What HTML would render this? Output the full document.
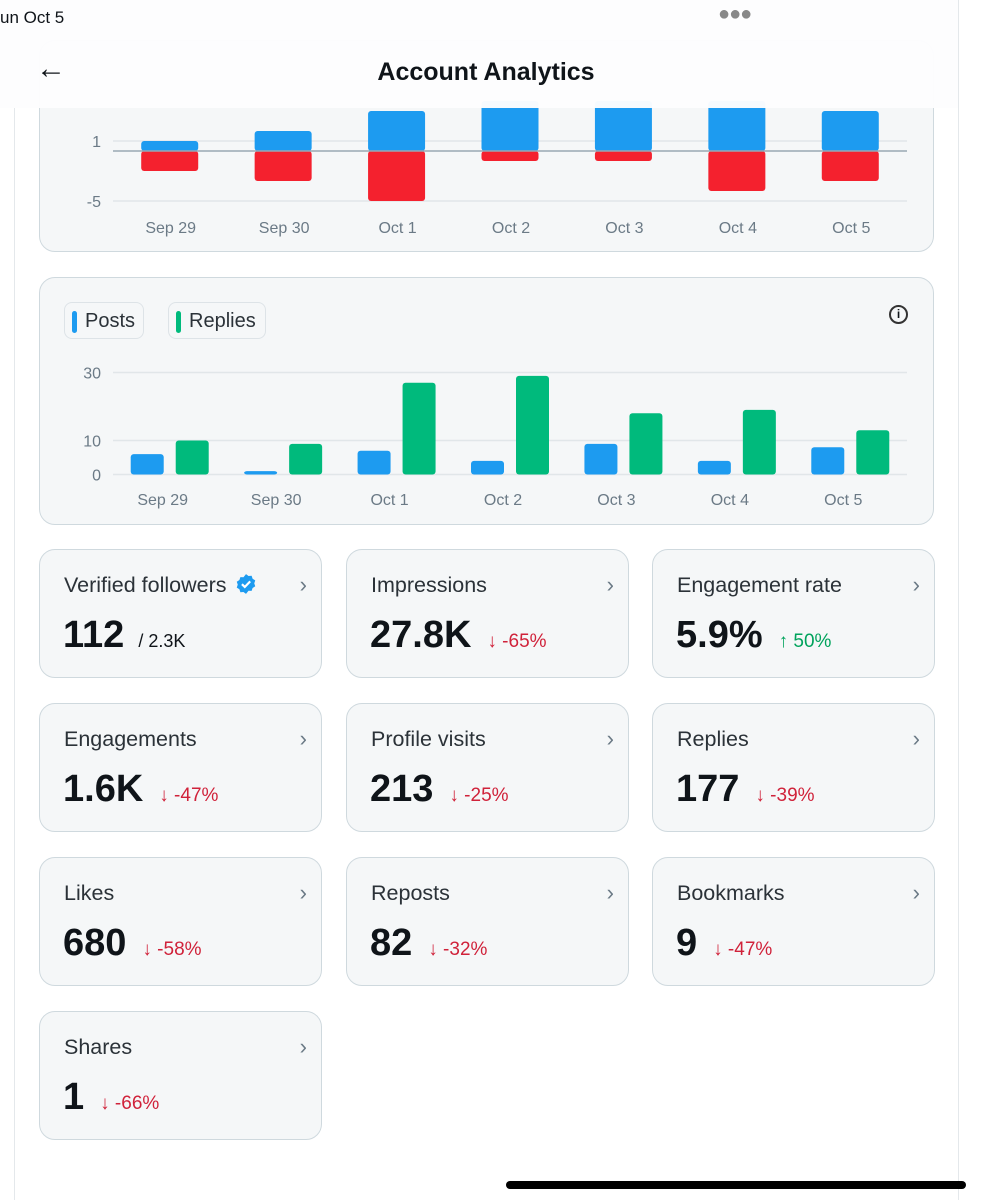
<!DOCTYPE html>
<html><head><meta charset="utf-8">
<style>
*{box-sizing:border-box;margin:0;padding:0}
body{width:1007px;height:1200px;background:#fff;font-family:"Liberation Sans",sans-serif;position:relative;overflow:hidden;color:#0f1419}
.vline{position:absolute;top:0;width:1px;height:1200px;background:#e4e8eb}
.card{position:absolute;background:#f5f7f8;border:1.5px solid #cfd9de;border-radius:16px}
.stat .lbl{position:absolute;left:24px;top:23px;font-size:21.5px;color:#2b3238;white-space:nowrap}
.stat .chev{position:absolute;right:14px;top:22px;font-size:22px;color:#6b7a86}
.stat .val{position:absolute;left:23px;top:64px;font-size:38px;font-weight:bold;color:#0f1419;white-space:nowrap}
.stat .chg{font-size:19px;font-weight:normal;margin-left:16px}
.dn{color:#d0223a}.up{color:#00a35c}
svg text{font-family:"Liberation Sans",sans-serif}
</style></head><body>
<div class="vline" style="left:14px"></div>
<div class="vline" style="left:958px"></div>

<div class="card" style="left:39px;top:40px;width:895px;height:212px">
<svg id="top-chart" width="895" height="212" style="position:absolute;left:-1.5px;top:-1.5px"></svg>
</div>

<div style="position:absolute;left:0;top:0;width:958px;height:108px;background:rgba(253,253,254,0.97)">
<div style="position:absolute;left:0;top:8px;font-size:17px">un Oct 5</div>
<div style="position:absolute;left:718px;top:3px;font-size:20px;color:#888;letter-spacing:-1px">●●●</div>
<div style="position:absolute;left:36px;top:54px;font-size:30px;line-height:30px">&#8592;</div>
<div style="position:absolute;left:0;width:972px;text-align:center;top:58px;font-size:25px;font-weight:bold">Account Analytics</div>
</div>

<div class="card" style="left:39px;top:277px;width:895px;height:248px">
<div style="position:absolute;left:24px;top:24px;height:37px;width:80px;border:1px solid #dde3e7;border-radius:8px;font-size:20px;padding:7px 0 0 20px;color:#2b3238"><span style="position:absolute;left:7px;top:8px;width:5px;height:22px;border-radius:3px;background:#1d9bf0"></span>Posts</div>
<div style="position:absolute;left:128px;top:24px;height:37px;width:98px;border:1px solid #dde3e7;border-radius:8px;font-size:20px;padding:7px 0 0 20px;color:#2b3238"><span style="position:absolute;left:7px;top:8px;width:5px;height:22px;border-radius:3px;background:#00ba7c"></span>Replies</div>
<div style="position:absolute;left:849px;top:27px;width:19px;height:19px;border:2px solid #333;border-radius:50%;font-size:12px;text-align:center;line-height:15px;font-weight:bold">i</div>
<svg id="bot-chart" width="895" height="248" style="position:absolute;left:-1.5px;top:-1.5px"></svg>
</div>

<div id="stats"></div>
<div style="position:absolute;left:506px;top:1181px;width:460px;height:8px;border-radius:4px;background:#000"></div>

<script>
const categories=["Sep 29","Sep 30","Oct 1","Oct 2","Oct 3","Oct 4","Oct 5"];
const gained=[1,2,4,5,5,5,4];
const lost=[-2,-3,-5,-1,-1,-4,-3];
const topTicks=[1,-5];
const posts=[6,1,7,4,9,4,8];
const replies=[10,9,27,29,18,19,13];
const botTicks=[30,10,0];
const NS="http://www.w3.org/2000/svg";
function mk(svg,tag,attrs,text){const e=document.createElementNS(NS,tag);for(const k in attrs)e.setAttribute(k,attrs[k]);if(text!=null)e.textContent=text;svg.appendChild(e);return e;}
(function(){
 const svg=document.getElementById('top-chart');
 const y=v=>111-v*10; const x0=74,x1=868,step=(x1-x0)/7;
 const xc=i=>x0+step*(i+0.5)+1;
 topTicks.forEach(t=>{const l=mk(svg,'line',{x1:x0,x2:x1,y1:y(t),y2:y(t),stroke:'#e1e6e9','stroke-width':1.5});
 
 const tx=mk(svg,'text',{x:62,y:y(t)+6,'text-anchor':'end','font-size':16,fill:'#6b7a86'},String(t));
 });
 categories.forEach((c,i)=>{
  const bw=57,bx=xc(i)-bw/2-1;
  const b=mk(svg,'rect',{x:bx,y:y(gained[i]),width:bw,height:y(0)-y(gained[i]),rx:3,fill:'#1d9bf0'});
  
  const r=mk(svg,'rect',{x:bx,y:y(0),width:bw,height:y(lost[i])-y(0),rx:3,fill:'#f4212e'});
  
  const t=mk(svg,'text',{x:xc(i),y:193,'text-anchor':'middle','font-size':16,fill:'#6b7a86'},c);
  
 });
 const z=mk(svg,'line',{x1:x0,x2:x1,y1:y(0),y2:y(0),stroke:'#9aa8b3','stroke-width':1.5});
 
})();
(function(){
 const svg=document.getElementById('bot-chart');
 const y=v=>197.5-v*3.4; const x0=74,x1=868,step=(x1-x0)/7;
 const xc=i=>x0+step*(i+0.5)-7;
 botTicks.forEach(t=>{const l=mk(svg,'line',{x1:x0,x2:x1,y1:y(t),y2:y(t),stroke:'#e1e6e9','stroke-width':1.5});
 
 const tx=mk(svg,'text',{x:62,y:y(t)+6,'text-anchor':'end','font-size':16,fill:'#6b7a86'},String(t));
 });
 categories.forEach((c,i)=>{
  const bw=33,bc=xc(i)+7;
  const b=mk(svg,'rect',{x:bc-bw-6,y:y(posts[i]),width:bw,height:y(0)-y(posts[i]),rx:3,fill:'#1d9bf0'});
  
  const g=mk(svg,'rect',{x:bc+6,y:y(replies[i]),width:bw,height:y(0)-y(replies[i]),rx:3,fill:'#00ba7c'});
  
  const t=mk(svg,'text',{x:xc(i),y:228,'text-anchor':'middle','font-size':16,fill:'#6b7a86'},c);
  
 });
})();
const statLabels=["Verified followers","Impressions","Engagement rate","Engagements","Profile visits","Replies","Likes","Reposts","Bookmarks","Shares"];
const statValues=["112","27.8K","5.9%","1.6K","213","177","680","82","9","1"];
const statChanges=["/ 2.3K","↓ -65%","↑ 50%","↓ -47%","↓ -25%","↓ -39%","↓ -58%","↓ -32%","↓ -47%","↓ -66%"];
const colsX=[39,346,652], rowsY=[549,703,857,1011];
const host=document.getElementById('stats');
statLabels.forEach((l,i)=>{
 const d=document.createElement('div');
 d.className='card stat';
 d.style.cssText=`left:${colsX[i%3]}px;top:${rowsY[Math.floor(i/3)]}px;width:283px;height:129px`;
 
 
 const ch=statChanges[i];
 const cls=i===0?'':(ch[0]==='↑'?'up':'dn');
 const sty=i===0?'style="color:#0f1419;margin-left:14px;font-size:18px"':'';
 const badge=i===0?' <svg width="22" height="22" viewBox="0 0 20 20" style="vertical-align:-3px;margin-left:2px"><path d="M10 1l2.3 1.7 2.8-.2.9 2.7 2.4 1.5-.9 2.7.9 2.7-2.4 1.5-.9 2.7-2.8-.2L10 19l-2.3-1.7-2.8.2-.9-2.7-2.4-1.5.9-2.7-.9-2.7 2.4-1.5.9-2.7 2.8.2z" fill="#1d9bf0"/><path d="M6.3 10.2l2.6 2.5L13.8 7.6" stroke="#fff" stroke-width="2" fill="none"/></svg>':'';
 d.innerHTML=`<div class="lbl">${l}${badge}</div><div class="chev">&#8250;</div><div class="val">${statValues[i]}<span class="chg ${cls}" ${sty}>${ch}</span></div>`;
 host.appendChild(d);
});
</script>
</body></html>
